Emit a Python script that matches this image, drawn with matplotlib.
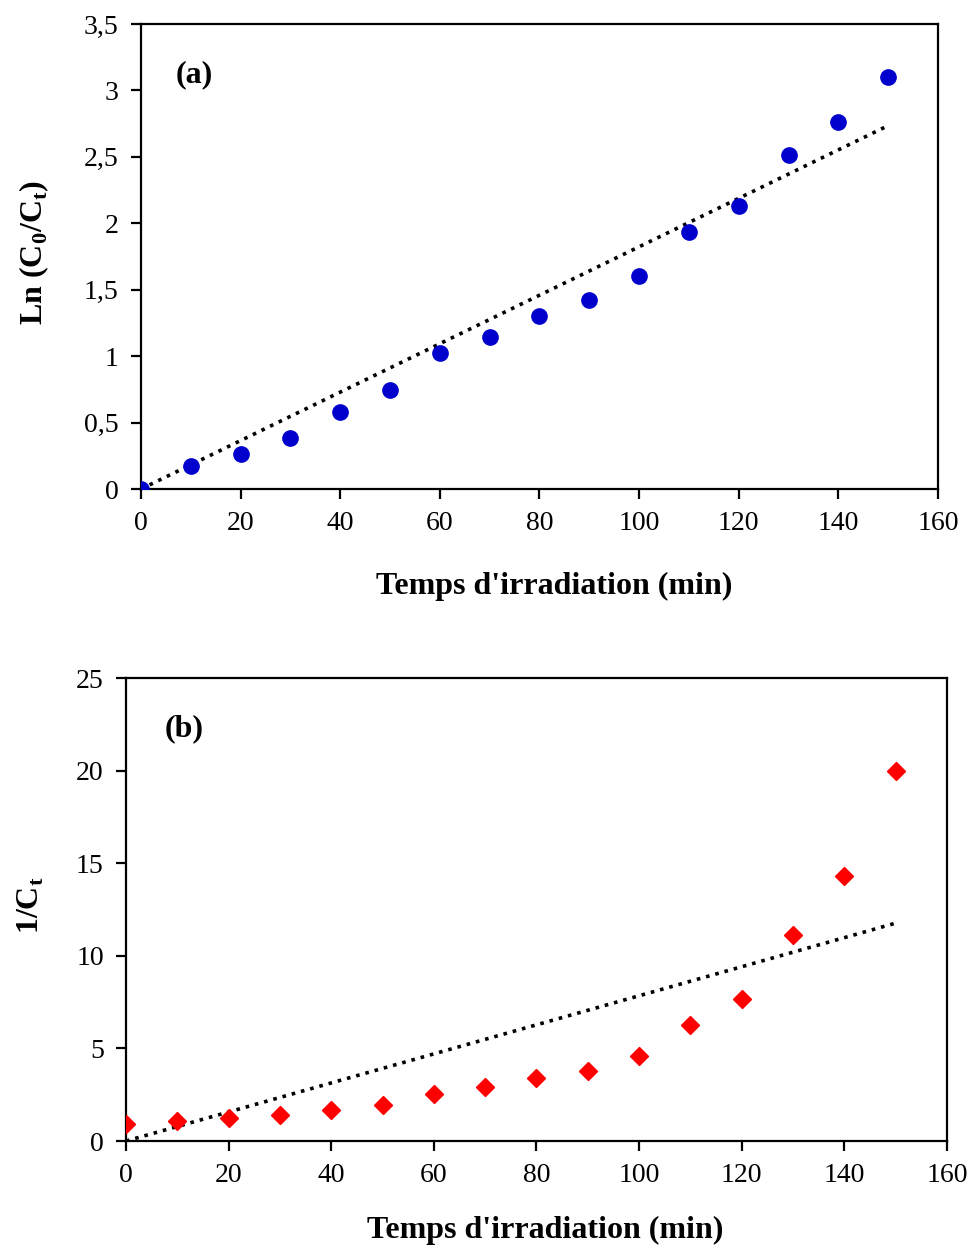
import numpy as np
import matplotlib
matplotlib.use("Agg")
import matplotlib.pyplot as plt
from matplotlib.ticker import FuncFormatter, MultipleLocator

plt.rcParams['font.family'] = ['Liberation Serif', 'DejaVu Serif']
plt.rcParams['mathtext.fontset'] = 'custom'
plt.rcParams['mathtext.rm'] = 'Liberation Serif'
plt.rcParams['mathtext.bf'] = 'Liberation Serif:bold'

# irradiation time (min)
temps = [0, 10, 20, 30, 40, 50, 60, 70, 80, 90, 100, 110, 120, 130, 140, 150]
# (a) ln(C0/Ct)
ln_c0_ct = [0, 0.173, 0.264, 0.385, 0.58, 0.747, 1.026, 1.146, 1.305, 1.425,
            1.606, 1.938, 2.134, 2.511, 2.76, 3.10]
# (b) 1/Ct
inv_ct = [0.92, 1.08, 1.24, 1.40, 1.67, 1.94, 2.53, 2.91, 3.39, 3.77,
          4.58, 6.25, 7.65, 11.15, 14.33, 20.0]

x = np.array(temps, dtype=float)


def fit_origin(xv, yv):
    # linear trend forced through origin (Excel style)
    yv = np.array(yv, dtype=float)
    return np.sum(xv * yv) / np.sum(xv * xv)


def comma(v, pos):
    return ('%g' % v).replace('.', ',')


def style_axes(ax):
    for sp in ax.spines.values():
        sp.set_linewidth(1.6)
    ax.tick_params(direction='out', length=7, width=1.6, labelsize=20,
                   top=False, right=False, pad=9)
    ax.yaxis.set_major_formatter(FuncFormatter(comma))


fig = plt.figure(figsize=(9.69, 12.45), dpi=100)

# panel (a)
ax1 = fig.add_axes([0.1455, 0.6072, 0.8225, 0.3735])
ka = fit_origin(x, ln_c0_ct)
ax1.plot([0, 150], [0, ka * 150], linestyle=':', color='black', lw=2.6)
ax1.plot(x, ln_c0_ct, 'o', color='#0000CC', markersize=11, zorder=3)
ax1.set_xlim(0, 160)
ax1.set_ylim(0, 3.5)
ax1.xaxis.set_major_locator(MultipleLocator(20))
ax1.yaxis.set_major_locator(MultipleLocator(0.5))
style_axes(ax1)
ax1.set_xlabel("Temps d'irradiation (min)", fontsize=23, fontweight='bold')
ax1.set_ylabel(r'Ln (C$_\mathbf{0}$/C$_\mathbf{t}$)', fontsize=23, fontweight='bold')
ax1.xaxis.set_label_coords(0.519, -0.178)
ax1.yaxis.set_label_coords(-0.113, 0.51)
ax1.text(0.043, 0.875, '(a)', transform=ax1.transAxes, fontsize=23, fontweight='bold')

# panel (b)
ax2 = fig.add_axes([0.130, 0.0835, 0.8473, 0.3719])
kb = fit_origin(x, inv_ct)
ax2.plot([0, 150], [0, kb * 150], linestyle=':', color='black', lw=2.6)
ax2.plot(x, inv_ct, 'D', color='#FF0000', markersize=9, zorder=3)
ax2.set_xlim(0, 160)
ax2.set_ylim(0, 25)
ax2.xaxis.set_major_locator(MultipleLocator(20))
ax2.yaxis.set_major_locator(MultipleLocator(5))
style_axes(ax2)
ax2.set_xlabel("Temps d'irradiation (min)", fontsize=23, fontweight='bold')
ax2.set_ylabel(r'1/C$_\mathbf{t}$', fontsize=23, fontweight='bold')
ax2.xaxis.set_label_coords(0.511, -0.162)
ax2.yaxis.set_label_coords(-0.097, 0.51)
ax2.text(0.047, 0.875, '(b)', transform=ax2.transAxes, fontsize=23, fontweight='bold')

fig.savefig('out.png', dpi=100)
